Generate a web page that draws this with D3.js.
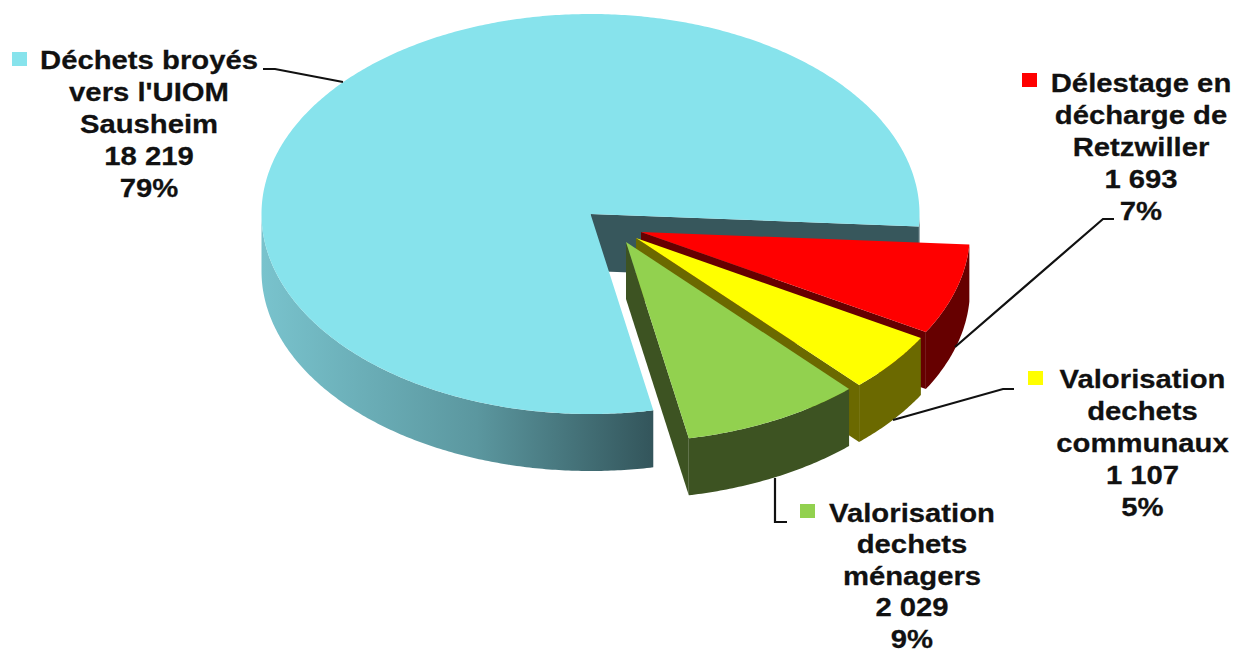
<!DOCTYPE html>
<html>
<head>
<meta charset="utf-8">
<style>
html,body{margin:0;padding:0;background:#fff;overflow:hidden}
svg{display:block}
text{font-family:"Liberation Sans",Arial,sans-serif;font-weight:bold;font-size:26.5px;fill:#111;stroke:#111;stroke-width:0.25px;text-anchor:middle}
</style>
<script src="https://cdn.jsdelivr.net/npm/d3@7"></script>
</head>
<body>
<svg id="chart" width="1235" height="649"></svg>
<script>
const categories = [
  ["Déchets broyés", "vers l'UIOM", "Sausheim"],
  ["Délestage en", "décharge de", "Retzwiller"],
  ["Valorisation", "dechets", "communaux"],
  ["Valorisation", "dechets", "ménagers"]
];
const values = [18219, 1693, 1107, 2029];
const topColors = ["#87e3ec", "#ff0000", "#ffff00", "#92d14f"];
const sideColors = ["url(#blueSide)", "#660000", "#6b6900", "#3d5322"];
const endWallColors = ["#37575c", "#660000", "#6b6900", "#3d5322"];

/* layout */
const W = 1235, H = 649;
const cx = 590.5, cy = 214, rx = 329, ry = 200, depth = 57;
const startDeg = 169;
const explode = [[0, 0], [50.5, 18], [45.5, 24], [35.5, 28]];
const labelX = [149, 1141, 1142.5, 912];
const labelY = [69, 92, 388, 522];
const lineH = [32, 32, 32, 31.5];
const textStretch = 1.105;
const keys = [[12, 52], [1022, 73], [1028, 371], [800, 504]];
const leaders = [
  [[263, 69], [275, 69], [343, 82]],
  [[1114, 219], [1103, 219], [955, 347]],
  [[1014, 389], [1003, 389], [893, 420]],
  [[787, 522], [775, 522], [775, 478]]
];

const svg = d3.select("#chart");
const fr = d3.formatLocale({decimal: ",", thousands: " ", grouping: [3], currency: ["", ""]});
const fmtVal = fr.format(",d");
const fmtPct = d3.format(".0%");
const total = d3.sum(values);

const grad = svg.append("defs").append("linearGradient")
  .attr("id", "blueSide").attr("gradientUnits", "userSpaceOnUse")
  .attr("x1", cx - rx).attr("x2", 653).attr("y1", 0).attr("y2", 0);
grad.append("stop").attr("offset", 0).attr("stop-color", "#79c3cd");
grad.append("stop").attr("offset", 0.55).attr("stop-color", "#5b979f");
grad.append("stop").attr("offset", 1).attr("stop-color", "#33555b");

const TAU = Math.PI * 2;
const pie = d3.pie().sort(null)
  .startAngle(startDeg * Math.PI / 180)
  .endAngle(startDeg * Math.PI / 180 + TAU);
const arcs = pie(values);
const line = d3.line();

function pt(a, i, dz = 0) {
  return [cx + explode[i][0] + rx * Math.sin(a), cy + explode[i][1] - ry * Math.cos(a) + dz];
}
function apex(i, dz = 0) {
  return [cx + explode[i][0], cy + explode[i][1] + dz];
}
function arcPts(a0, a1, i, dz = 0) {
  const n = Math.max(2, Math.ceil(Math.abs(a1 - a0) / 0.01));
  return d3.range(n + 1).map(k => pt(a0 + (a1 - a0) * k / n, i, dz));
}
/* parts of a slice's rim facing the viewer (90deg..270deg, modulo a turn) */
function frontSpans(a0, a1) {
  const spans = [];
  for (const k of [-1, 0, 1]) {
    const lo = Math.max(a0, Math.PI / 2 + k * TAU);
    const hi = Math.min(a1, Math.PI * 1.5 + k * TAU);
    if (hi > lo) spans.push([lo, hi]);
  }
  return spans;
}

const g = svg.append("g");
arcs.forEach((d, i) => {
  const a0 = d.startAngle, a1 = d.endAngle;
  const s = g.append("g").attr("class", "slice");
  // radial wall on the closing edge
  s.append("path")
    .attr("d", line([apex(i), pt(a1, i), pt(a1, i, depth), apex(i, depth)]) + "Z")
    .attr("fill", endWallColors[i]);
  // rim
  frontSpans(a0, a1).forEach(([lo, hi]) => {
    s.append("path")
      .attr("d", line(arcPts(lo, hi, i).concat(arcPts(hi, lo, i, depth))) + "Z")
      .attr("fill", sideColors[i]);
  });
  // top face
  s.append("path")
    .attr("d", line([apex(i)].concat(arcPts(a0, a1, i))) + "Z")
    .attr("fill", topColors[i]);
});

// leader lines
svg.append("g").selectAll("path").data(leaders).join("path")
  .attr("d", line).attr("fill", "none").attr("stroke", "#111").attr("stroke-width", 2.2);

// legend keys
svg.append("g").selectAll("rect").data(keys).join("rect")
  .attr("x", d => d[0]).attr("y", d => d[1]).attr("width", 15).attr("height", 14)
  .attr("fill", (d, i) => topColors[i]);

// labels (the reference's type is stretched horizontally)
const lab = svg.append("g").selectAll("text").data(arcs).join("text")
  .attr("transform", (d, i) => `translate(${labelX[i]},${labelY[i]}) scale(${textStretch},1)`);
lab.selectAll("tspan")
  .data((d, i) => categories[i].concat([fmtVal(d.value), fmtPct(d.value / total)])
    .map((t, k) => ({t, k, dy: lineH[i]})))
  .join("tspan")
  .attr("x", 0)
  .attr("dy", d => d.k ? d.dy : 0)
  .text(d => d.t);
</script>
</body>
</html>
